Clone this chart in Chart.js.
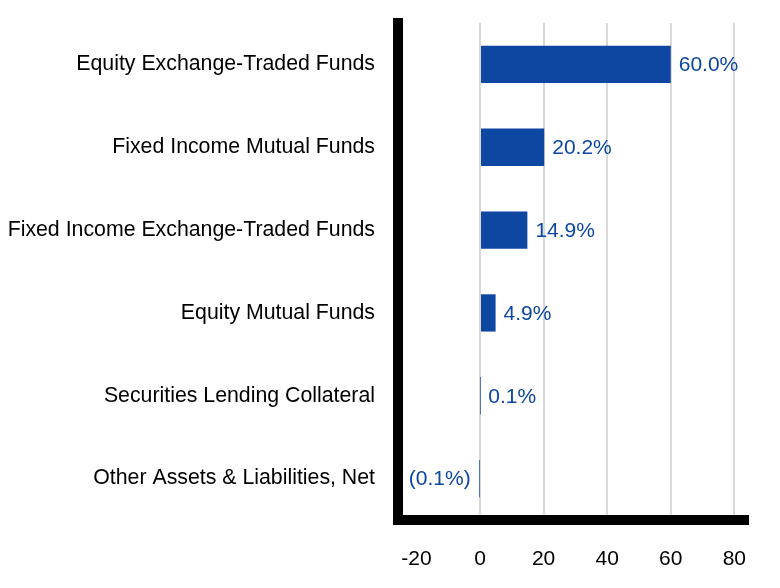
<!DOCTYPE html>
<html>
<head>
<meta charset="utf-8">
<script src="https://cdn.jsdelivr.net/npm/chart.js@4/dist/chart.umd.min.js"></script>
<style>
  body { margin: 0; background: #fff; }
  #wrap { width: 780px; height: 588px; }
</style>
</head>
<body>
<div id="wrap"><canvas id="bar-chart"></canvas></div>
<script>
const categories = [
  "Equity Exchange-Traded Funds",
  "Fixed Income Mutual Funds",
  "Fixed Income Exchange-Traded Funds",
  "Equity Mutual Funds",
  "Securities Lending Collateral",
  "Other Assets & Liabilities, Net"
];
const weights = [60.0, 20.2, 14.9, 4.9, 0.1, -0.1];
const xTicks = [-20, 0, 20, 40, 60, 80];

const BLUE = "#0d47a1";
const FONT = "'Liberation Sans', Arial, sans-serif";

function pct(v) {
  const s = Math.abs(v).toFixed(1) + "%";
  return v < 0 ? "(" + s + ")" : s;
}

// value labels at the end of each bar
const barLabels = {
  id: "barLabels",
  afterDatasetsDraw(chart) {
    const ctx = chart.ctx;
    const meta = chart.getDatasetMeta(0);
    ctx.save();
    ctx.font = "21px " + FONT;
    ctx.fillStyle = BLUE;
    ctx.textBaseline = "middle";
    meta.data.forEach((bar, i) => {
      const v = weights[i];
      if (v < 0) {
        ctx.textAlign = "right";
        ctx.fillText(pct(v), bar.x - 9, bar.y + 1);
      } else {
        ctx.textAlign = "left";
        ctx.fillText(pct(v), bar.x + 8, bar.y + 1);
      }
    });
    ctx.restore();
  }
};

new Chart(document.getElementById("bar-chart"), {
  type: 'bar',
  data: {
    labels: categories,
    datasets: [{
      data: weights,
      backgroundColor: BLUE,
      borderWidth: 0,
      barPercentage: 0.5,
      categoryPercentage: 0.9
    }]
  },
  options: {
    indexAxis: 'y',
    responsive: true,
    maintainAspectRatio: false,
    animation: false,
    layout: {
      padding: { top: 23, right: 32, left: 0, bottom: 0 }
    },
    plugins: {
      legend: { display: false },
      tooltip: { enabled: false }
    },
    scales: {
      x: {
        min: -25.8,
        max: 84.3,
        afterBuildTicks: (scale) => { scale.ticks = xTicks.map(v => ({ value: v })); },
        afterFit: (scale) => { scale.height = 68; },
        grid: {
          drawTicks: false,
          lineWidth: 2,
          color: (c) => (c.tick && c.tick.value === -20) ? 'rgba(0,0,0,0)' : '#d9d9d9'
        },
        border: { display: true, width: 10, color: '#000' },
        ticks: {
          padding: 27,
          color: '#000',
          font: { family: FONT, size: 21 }
        }
      },
      y: {
        afterFit: (scale) => {
          scale.width = 398;
          scale.paddingTop = 0;
          scale.paddingBottom = 0;
        },
        grid: { display: false, drawTicks: false },
        border: { display: true, width: 10, color: '#000' },
        ticks: {
          padding: 23,
          color: '#000',
          font: { family: FONT, size: 21.3 }
        }
      }
    }
  },
  plugins: [barLabels]
});
</script>
</body>
</html>
